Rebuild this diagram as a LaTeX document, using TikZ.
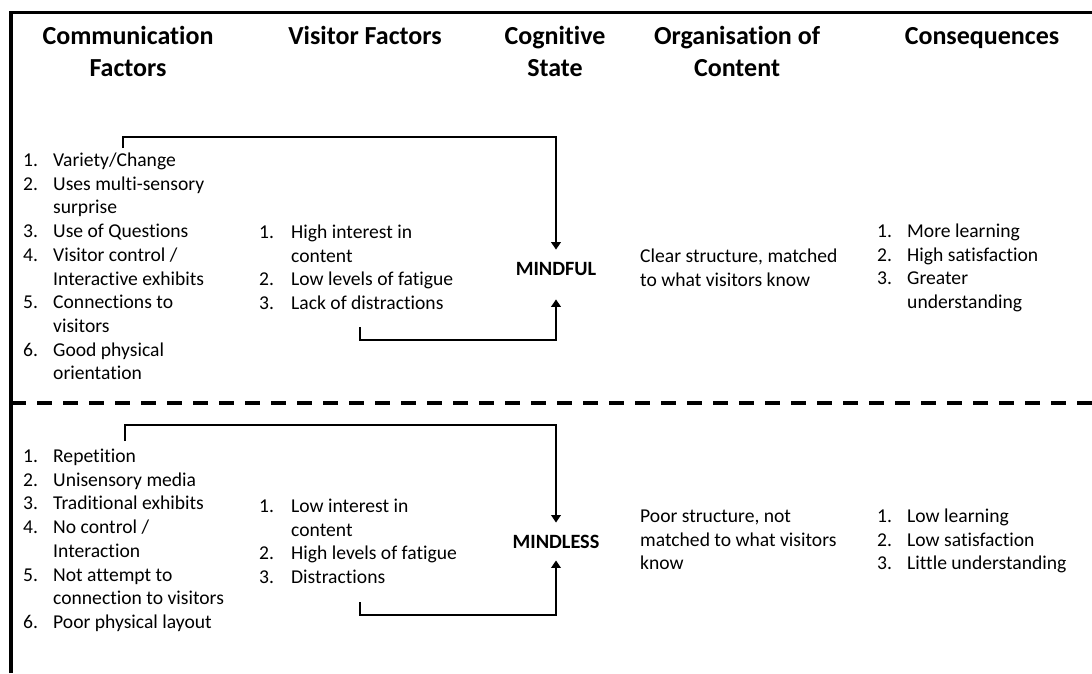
\documentclass[tikz,border=0pt]{standalone}
\usepackage{fontspec}
\setmainfont{Carlito}[Ligatures=NoCommon]
\usetikzlibrary{arrows.meta}
\begin{document}
\begin{tikzpicture}[x=1pt,y=-1pt,
  hdr/.style={font=\fontsize{26}{32}\selectfont\bfseries, inner sep=0, anchor=base},
  lst/.style={font=\fontsize{19.6}{23.7}\selectfont, inner sep=0, anchor=base west},
  state/.style={font=\fontsize{20.3}{24}\selectfont\bfseries, inner sep=0},
  frame/.style={line width=3.3pt, line join=miter},
  arr/.style={line width=2.8pt, -{Triangle[width=9.5pt,length=7.5pt]}},
  dashline/.style={line width=3.3pt, dash pattern=on 15pt off 11pt}]
\useasboundingbox (0,0) rectangle (1092,673);
% frame
\coordinate (fb) at (11,673);
\coordinate (fc) at (11,12.5);
\coordinate (fr) at (1092,12.5);
\draw[frame] (fb) -- (fc) -- (fr);
\coordinate (dl) at (11,403);
\coordinate (dr) at (1092,403);
\draw[dashline] (dl) -- (dr);
% headers
\node[hdr] (h1) at (128,44.5) {\begin{tabular}[t]{@{}c@{}}Communication\\Factors\end{tabular}};
\node[hdr] (h2) at (365,44.5) {Visitor Factors};
\node[hdr] (h3) at (555,44.5) {\begin{tabular}[t]{@{}c@{}}Cognitive\\State\end{tabular}};
\node[hdr] (h4) at (737,44.5) {\begin{tabular}[t]{@{}c@{}}Organisation of\\Content\end{tabular}};
\node[hdr] (h5) at (982,44.5) {Consequences};
% upper section
\node[lst] (c1u) at (23,166.5) {\begin{tabular}[t]{@{}p{30pt}@{}l@{}}
1.&Variety/Change\\
2.&Uses multi-sensory\\
&surprise\\
3.&Use of Questions\\
4.&Visitor control /\\
&Interactive exhibits\\
5.&Connections to\\
&visitors\\
6.&Good physical\\
&orientation
\end{tabular}};
\node[lst] (c2u) at (259,238.5) {\begin{tabular}[t]{@{}p{32pt}@{}l@{}}
1.&High interest in\\
&content\\
2.&Low levels of fatigue\\
3.&Lack of distractions
\end{tabular}};
\node[state] (mindful) at (556,268.5) {MINDFUL};
\node[lst] (c4u) at (640,262.5) {\begin{tabular}[t]{@{}l@{}}
Clear structure, matched\\
to what visitors know
\end{tabular}};
\node[lst] (c5u) at (877,237.5) {\begin{tabular}[t]{@{}p{30pt}@{}l@{}}
1.&More learning\\
2.&High satisfaction\\
3.&Greater\\
&understanding
\end{tabular}};
% lower section
\node[lst] (c1l) at (23,462.5) {\begin{tabular}[t]{@{}p{30pt}@{}l@{}}
1.&Repetition\\
2.&Unisensory media\\
3.&Traditional exhibits\\
4.&No control /\\
&Interaction\\
5.&Not attempt to\\
&connection to visitors\\
6.&Poor physical layout
\end{tabular}};
\node[lst] (c2l) at (259,512.5) {\begin{tabular}[t]{@{}p{32pt}@{}l@{}}
1.&Low interest in\\
&content\\
2.&High levels of fatigue\\
3.&Distractions
\end{tabular}};
\node[state] (mindless) at (556,541.5) {MINDLESS};
\node[lst] (c4l) at (640,522.5) {\begin{tabular}[t]{@{}l@{}}
Poor structure, not\\
matched to what visitors\\
know
\end{tabular}};
\node[lst] (c5l) at (877,522.5) {\begin{tabular}[t]{@{}p{30pt}@{}l@{}}
1.&Low learning\\
2.&Low satisfaction\\
3.&Little understanding
\end{tabular}};
% arrows
\coordinate (s1) at (123,148);
\coordinate (s2) at (360,327);
\coordinate (s3) at (125,441);
\coordinate (s4) at (360,602);
\draw[arr] (s1) -- ++(0,-11) -| ([yshift=12pt]mindful.north);
\draw[arr] (s2) -- ++(0,13) -| ([yshift=-24pt]mindful.south);
\draw[arr] (s3) -- ++(0,-16) -| ([yshift=12pt]mindless.north);
\draw[arr] (s4) -- ++(0,13) -| ([yshift=-12pt]mindless.south);
\end{tikzpicture}
\end{document}
